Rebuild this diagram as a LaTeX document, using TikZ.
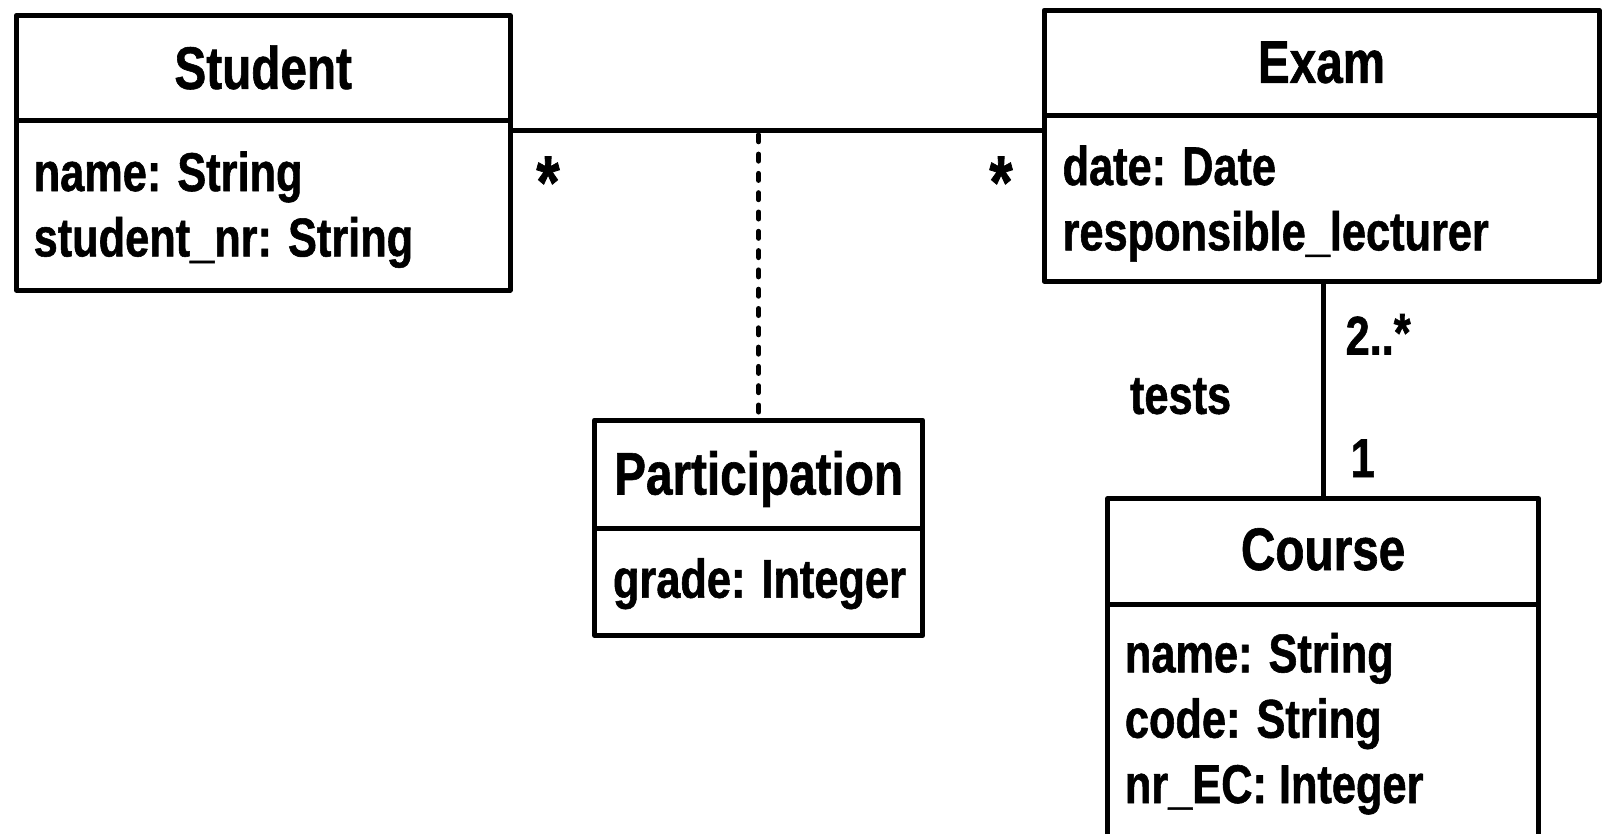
\documentclass[tikz,border=0pt]{standalone}
\usepackage{fontspec}
\setmainfont{Liberation Sans}[FakeStretch=0.795, BoldFeatures={FakeBold=1}]
\begin{document}
\begin{tikzpicture}[x=1pt,y=-1pt,
  box/.style={draw=black, line width=5pt, line join=round, inner sep=0pt, outer sep=0pt},
  solidline/.style={draw=black, line width=5pt},
  dashedline/.style={draw=black, line width=5pt, line cap=round, dash pattern=on 7pt off 12.3pt},
  title/.style={inner sep=0pt, outer sep=0pt, anchor=base, font=\fontsize{60}{72}\selectfont\bfseries},
  attr/.style={inner sep=0pt, outer sep=0pt, anchor=base west, font=\fontsize{54.5}{65}\selectfont\bfseries},
  mult/.style={inner sep=0pt, outer sep=0pt, anchor=base, font=\fontsize{75}{80}\selectfont\bfseries}]
\useasboundingbox (0,0) rectangle (1602,833);
\clip (0,0) rectangle (1602,833);
% class boxes
\node[box, minimum width=493.7pt, minimum height=274.7pt] (student) at (263.2,152.7) {};
\node[box, minimum width=555pt, minimum height=270.8pt] (exam) at (1321.5,145.6) {};
\node[box, minimum width=328pt, minimum height=215.5pt] (part) at (758.6,527.8) {};
\node[box, minimum width=431.2pt, minimum height=401.4pt] (course) at (1323.1,699.3) {};
% dividers
\coordinate (sdiv) at (0,120.6);
\coordinate (ediv) at (0,115.5);
\coordinate (pdiv) at (0,528.2);
\coordinate (cdiv) at (0,604.8);
\draw[solidline] (student.west |- sdiv) -- (student.east |- sdiv);
\draw[solidline] (exam.west |- ediv) -- (exam.east |- ediv);
\draw[solidline] (part.west |- pdiv) -- (part.east |- pdiv);
\draw[solidline] (course.west |- cdiv) -- (course.east |- cdiv);
% connectors
\coordinate (assoc) at (0,130.8);
\draw[solidline] (student.east |- assoc) -- (exam.west |- assoc);
\draw[dashedline] ([yshift=-4pt]part.north |- assoc) -- ([yshift=7pt]part.north);
\draw[solidline] (course.north |- exam.south) -- (course.north);
% texts
\node[title] (studentT) at (263.2,88.9) {Student};
\node[attr] (s1) at (33.7,191) {name: String};
\node[attr] (s2) at (33.7,256.4) {student\_nr: String};
\node[title] (examT) at (1321.5,82.8) {Exam};
\node[attr] (e1) at (1062.6,185) {date: Date};
\node[attr] (e2) at (1062.6,250.3) {responsible\_lecturer};
\node[title] (partT) at (758.6,494.5) {Participation};
\node[attr] (p1) at (613,597.7) {grade: Integer};
\node[title] (courseT) at (1323.1,570) {Course};
\node[attr] (c1) at (1124.9,672.3) {name: String};
\node[attr] (c2) at (1124.9,737.7) {code: String};
\node[attr] (c3) at (1124.9,803) {nr\_EC: Integer};
\node[mult] (m1) at (548,208) {*};
\node[mult] (m2) at (1001,208) {*};
\node[attr] (m3) at (1345.6,354.5) {2..\raisebox{3pt}{*}};
\node[attr] (tests) at (1130,413.8) {tests};
\node[attr] (m4) at (1350.7,477) {1};
\end{tikzpicture}
\end{document}
